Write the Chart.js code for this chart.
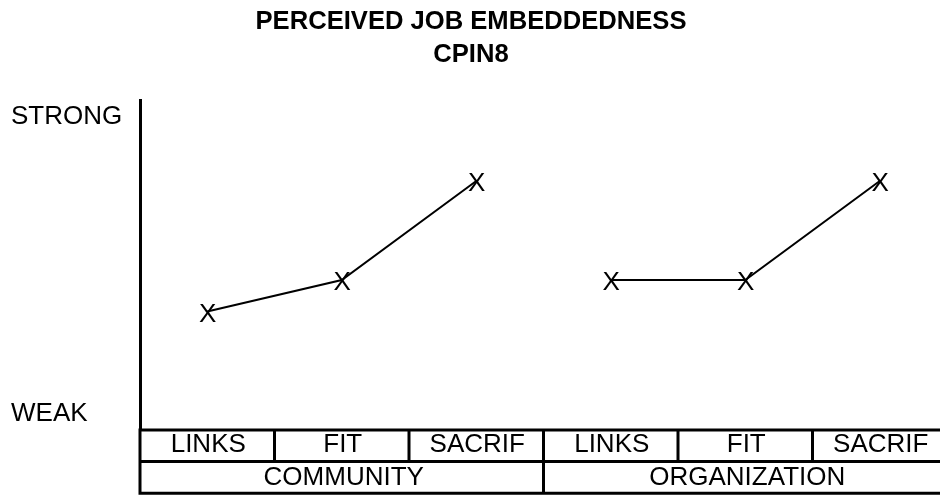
<!DOCTYPE html>
<html>
<head>
<meta charset="utf-8">
<script src="https://cdn.jsdelivr.net/npm/chart.js@4"></script>
<style>
  html, body { margin: 0; padding: 0; background: #fff; overflow: hidden; }
  #wrap { width: 948px; height: 496px; position: relative; }
</style>
</head>
<body>
<div id="wrap"><canvas id="c" width="948" height="496"></canvas></div>
<script>
// ---- data ----
const categories = ['LINKS', 'FIT', 'SACRIF', 'LINKS', 'FIT', 'SACRIF'];
const groups = ['COMMUNITY', 'ORGANIZATION'];
const communityValues = [3.95, 5.0, 8.3, null, null, null];
const organizationValues = [null, null, null, 5.0, 5.0, 8.3];
const yTickValues = [0.55, 10.45];
const yTickLabels = ['WEAK', 'STRONG'];
const titleLines = ['PERCEIVED JOB EMBEDDEDNESS', 'CPIN8'];

const FONT = '"Liberation Sans", Arial, sans-serif';

const tablePlugin = {
  id: 'tablePlugin',
  afterDraw(chart) {
    const ctx = chart.ctx;
    const area = chart.chartArea;
    const xs = chart.scales.x;
    const n = categories.length;
    const step = xs.getPixelForValue(1) - xs.getPixelForValue(0);
    const bounds = [];
    for (let i = 0; i <= n; i++) bounds.push(xs.getPixelForValue(0) - step / 2 + i * step);
    const top = area.bottom;
    const mid = top + 31.5;
    const bot = top + 63.3;

    ctx.save();
    // title
    ctx.fillStyle = '#000';
    ctx.textAlign = 'center';
    ctx.textBaseline = 'alphabetic';
    ctx.font = 'bold 25.6px ' + FONT;
    ctx.fillText(titleLines[0], 471, 28.5);
    ctx.fillText(titleLines[1], 471, 62);

    // X markers at data points
    ctx.font = '26px ' + FONT;
    ctx.textBaseline = 'middle';
    chart.data.datasets.forEach((ds, di) => {
      const meta = chart.getDatasetMeta(di);
      meta.data.forEach((pt, i) => {
        if (ds.data[i] === null || ds.data[i] === undefined) return;
        ctx.fillText('X', pt.x + 0.5, pt.y + 3);
      });
    });

    // table lines
    ctx.strokeStyle = '#000';
    ctx.lineWidth = 3;
    ctx.beginPath();
    ctx.moveTo(bounds[0] - 1.5, top); ctx.lineTo(bounds[n] + 2, top);
    ctx.moveTo(bounds[0] - 1.5, mid); ctx.lineTo(bounds[n] + 2, mid);
    ctx.moveTo(bounds[0] - 1.5, bot); ctx.lineTo(bounds[n] + 2, bot);
    // left border
    ctx.moveTo(bounds[0], top); ctx.lineTo(bounds[0], bot + 1.5);
    // column separators in row 1
    for (let i = 1; i < n; i++) {
      if (i === n / 2) continue;
      ctx.moveTo(bounds[i], top); ctx.lineTo(bounds[i], mid);
    }
    // group separator
    ctx.moveTo(bounds[n / 2], top); ctx.lineTo(bounds[n / 2], bot);
    ctx.moveTo(bounds[n], top); ctx.lineTo(bounds[n], bot);
    ctx.stroke();

    // labels
    ctx.font = '26px ' + FONT;
    ctx.textAlign = 'center';
    ctx.textBaseline = 'middle';
    for (let i = 0; i < n; i++) {
      ctx.fillText(categories[i], xs.getPixelForValue(i) + 1, top + 15);
    }
    const half = n / 2;
    groups.forEach((g, gi) => {
      const cx = (bounds[gi * half] + bounds[(gi + 1) * half]) / 2;
      ctx.fillText(g, cx + 2, mid + 16);
    });
    ctx.restore();
  }
};

new Chart(document.getElementById('c'), {
  type: 'line',
  data: {
    labels: categories,
    datasets: [
      { label: 'Community', data: communityValues, borderColor: '#000', borderWidth: 2, pointRadius: 0, spanGaps: false, fill: false },
      { label: 'Organization', data: organizationValues, borderColor: '#000', borderWidth: 2, pointRadius: 0, spanGaps: false, fill: false }
    ]
  },
  options: {
    responsive: false,
    animation: false,
    events: [],
    layout: { padding: { top: 100, left: 11, right: 1, bottom: 66 } },
    plugins: { legend: { display: false }, title: { display: false }, tooltip: { enabled: false } },
    scales: {
      x: { type: 'category', offset: true, display: false },
      y: {
        min: 0, max: 11,
        afterBuildTicks(scale) { scale.ticks = yTickValues.map(v => ({ value: v })); },
        afterFit(scale) { scale.width = 129; },
        ticks: {
          callback(value) { const i = yTickValues.indexOf(value); return i >= 0 ? yTickLabels[i] : ''; },
          color: '#000',
          font: { family: FONT, size: 26 },
          crossAlign: 'far',
          autoSkip: false
        },
        grid: { display: false },
        border: { display: true, color: '#000', width: 3 }
      }
    }
  },
  plugins: [tablePlugin]
});
</script>
</body>
</html>
